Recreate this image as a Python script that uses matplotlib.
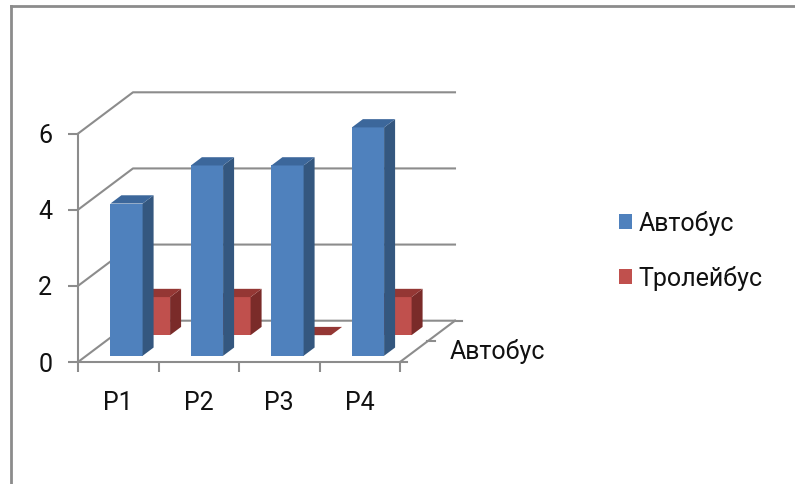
import matplotlib
matplotlib.use("Agg")
import matplotlib.pyplot as plt
from matplotlib.patches import Polygon, Patch
from matplotlib.lines import Line2D

plt.rcParams['font.family'] = ['Roboto', 'DejaVu Sans']

categories = ["P1", "P2", "P3", "P4"]
series_names = ["Автобус", "Тролейбус"]
bus = [4, 5, 5, 6]
trolley = [1, 1, 0, 1]
yticks = [0, 2, 4, 6]

# colours: front, top, side
blue = ("#4f81bd", "#3c679b", "#34577f")
red = ("#c0504d", "#943734", "#7a2b29")
grid_c = "#8c8c8c"

# oblique depth vector in data units (full depth of the floor)
DX, DY = 0.683, 1.085


def proj(x, y, d):
    return (x + d * DX, y + d * DY)


fig = plt.figure(figsize=(7.95, 4.84), dpi=100)
W, H = 795, 484
ax = fig.add_axes([78 / W, (H - 362) / H, 322 / W, 228.4 / H])
ax.set_xlim(0, 4)
ax.set_ylim(0, 6)
ax.patch.set_visible(False)

# walls and floor
for v in yticks:
    x0, y0 = proj(0, v, 0)
    x1, y1 = proj(0, v, 1)
    x2, y2 = proj(4, v, 1)
    ax.plot([x0, x1, x2], [y0, y1, y1], color=grid_c, lw=1.5, zorder=1, clip_on=False)
fx0, fy0 = proj(4, 0, 0)
fx1, fy1 = proj(4, 0, 1)
ax.plot([fx0, fx1], [fy0, fy1], color=grid_c, lw=1.5, zorder=1, clip_on=False)
for d in [0, 0.5, 1]:
    tx, ty = proj(4, 0, d)
    ax.plot([tx, tx + 0.09], [ty, ty], color=grid_c, lw=1.5, zorder=1, clip_on=False)


def draw_bars(vals, cols, d0, d1, z):
    for i, h in enumerate(vals):
        xa, xb = i + 0.3, i + 0.7
        front = [proj(xa, 0, d0), proj(xb, 0, d0), proj(xb, h, d0), proj(xa, h, d0)]
        side = [proj(xb, 0, d0), proj(xb, 0, d1), proj(xb, h, d1), proj(xb, h, d0)]
        top = [proj(xa, h, d0), proj(xb, h, d0), proj(xb, h, d1), proj(xa, h, d1)]
        if h > 0:
            ax.add_patch(Polygon(front, closed=True, fc=cols[0], ec='none', zorder=z, clip_on=False))
            ax.add_patch(Polygon(side, closed=True, fc=cols[2], ec='none', zorder=z, clip_on=False))
        ax.add_patch(Polygon(top, closed=True, fc=cols[1], ec='none', zorder=z, clip_on=False))


draw_bars(trolley, red, 0.65, 0.85, 2)
draw_bars(bus, blue, 0.15, 0.35, 3)

# axes
for s in ['top', 'right']:
    ax.spines[s].set_visible(False)
for s in ['left', 'bottom']:
    ax.spines[s].set_color(grid_c)
    ax.spines[s].set_linewidth(1.5)
ax.set_yticks(yticks)
ax.tick_params(axis='y', direction='out', length=7.5, width=1.5, color=grid_c,
               labelsize=18, pad=11, labelcolor='#111111')
ax.set_xticks([0, 1, 2, 3, 4])
ax.set_xticklabels([])
ax.tick_params(axis='x', which='major', direction='out', length=7.5, width=1.5, color=grid_c)
ax.set_xticks([i + 0.5 for i in range(len(categories))], minor=True)
ax.set_xticklabels(categories, minor=True)
ax.tick_params(axis='x', which='minor', length=0, labelsize=18, pad=21, labelcolor='#111111')

# depth axis label
lx, ly = proj(4, 0, 0.25)
ax.annotate(series_names[0], (lx, ly), xytext=(26, 0), textcoords='offset points',
            ha='left', va='center', fontsize=18, color='#111111', annotation_clip=False)

# legend
handles = [Patch(fc=blue[0], ec='none'), Patch(fc=red[0], ec='none')]
fig.legend(handles, series_names, loc='upper left', bbox_to_anchor=(606 / W, 1 - 198 / H),
           frameon=False, fontsize=18, handlelength=0.55, handleheight=0.55,
           handletextpad=0.25, labelspacing=1.2, borderpad=0, labelcolor='#111111')

# chart border
fig.add_artist(Line2D([11 / W, 11 / W], [0, 1 - 6 / H], color=grid_c, lw=2))
fig.add_artist(Line2D([11 / W, 1], [1 - 6 / H, 1 - 6 / H], color=grid_c, lw=2))

fig.savefig("out.png", dpi=100)
